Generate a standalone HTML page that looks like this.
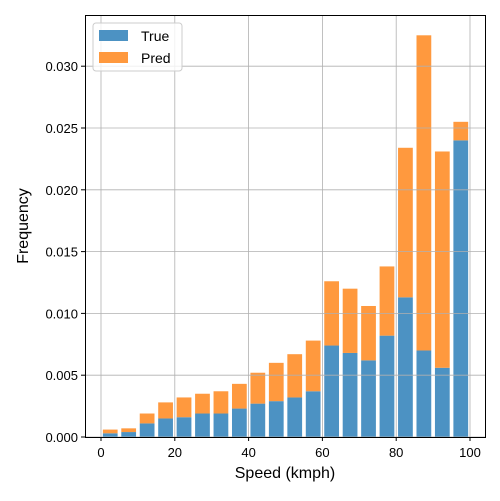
<!DOCTYPE html>
<html><head><meta charset="utf-8"><style>
html,body{margin:0;padding:0;background:#fff;}
svg text{font-family:"Liberation Sans","DejaVu Sans",sans-serif;fill:#000;}
</style></head><body>
<svg id="chart" width="500" height="496" xmlns="http://www.w3.org/2000/svg">
<g id="bars"></g>
<g id="grid"></g>
<rect x="85.5" y="15.5" width="400" height="422" fill="none" stroke="#000" stroke-width="1"/>
<g id="xticks"></g>
<g id="yticks"></g>
<text x="285" y="478" font-size="16" text-anchor="middle">Speed (kmph)</text>
<text x="28" y="226" font-size="16" text-anchor="middle" transform="rotate(-90 28 226)">Frequency</text>
<g>
<rect x="93" y="23" width="89" height="48" rx="3" fill="#fff" fill-opacity="0.8" stroke="#ccc"/>
<rect x="99" y="30" width="29" height="11" fill="#4c92c3"/>
<text x="141" y="41" font-size="14">True</text>
<rect x="99" y="52" width="29" height="11" fill="#ff993e"/>
<text x="141" y="63" font-size="14">Pred</text>
</g>
</svg>
<script>
const binStarts=[0,5,10,15,20,25,30,35,40,45,50,55,60,65,70,75,80,85,90,95];
const trueVals=[0.0003,0.0004,0.0011,0.0015,0.0016,0.0019,0.0019,0.0023,0.0027,0.0029,0.0032,0.0037,0.0074,0.0068,0.0062,0.0082,0.0113,0.0070,0.0056,0.0240];
const totalVals=[0.0006,0.0007,0.0019,0.0028,0.0032,0.0035,0.0037,0.0043,0.0052,0.0060,0.0067,0.0078,0.0126,0.0120,0.0106,0.0138,0.0234,0.0325,0.0231,0.0255];
const xTicks=[0,20,40,60,80,100];
const yTicks=[0,0.005,0.010,0.015,0.020,0.025,0.030];
const yTickLabels=["0.000","0.005","0.010","0.015","0.020","0.025","0.030"];
const NS="http://www.w3.org/2000/svg";
function xs(v){return 101+v*3.69;}
function ys(v){return 437-v*12360;}
function mk(t,a,p){const e=document.createElementNS(NS,t);for(const k in a)e.setAttribute(k,a[k]);p.appendChild(e);return e;}
const grid=document.getElementById('grid'),bars=document.getElementById('bars'),xt=document.getElementById('xticks'),yt=document.getElementById('yticks');
xTicks.forEach(v=>{const x=xs(v);
const g=mk('line',{x1:x,x2:x,y1:15,y2:437,stroke:'#b0b0b0','stroke-width':0.8},grid);


mk('line',{x1:x,x2:x,y1:437,y2:441,stroke:'#000'},xt);
const t=mk('text',{x:x,y:457,'font-size':13,'text-anchor':'middle'},xt);t.textContent=v;

});
yTicks.forEach((v,i)=>{const y=ys(v);
const g=mk('line',{x1:85,x2:486,y1:y,y2:y,stroke:'#b0b0b0','stroke-width':0.8},grid);


mk('line',{x1:81,x2:85,y1:y,y2:y,stroke:'#000'},yt);
const t=mk('text',{x:78,y:y+5,'font-size':13,'text-anchor':'end'},yt);t.textContent=yTickLabels[i];

});
binStarts.forEach((b,i)=>{const x0=xs(b+0.5),w=xs(b+4.5)-x0;
const r1=mk('rect',{x:x0,y:ys(trueVals[i]),width:w,height:ys(0)-ys(trueVals[i]),fill:'#4c92c3'},bars);


const r2=mk('rect',{x:x0,y:ys(totalVals[i]),width:w,height:ys(trueVals[i])-ys(totalVals[i]),fill:'#ff993e'},bars);

});
</script>
</body></html>
